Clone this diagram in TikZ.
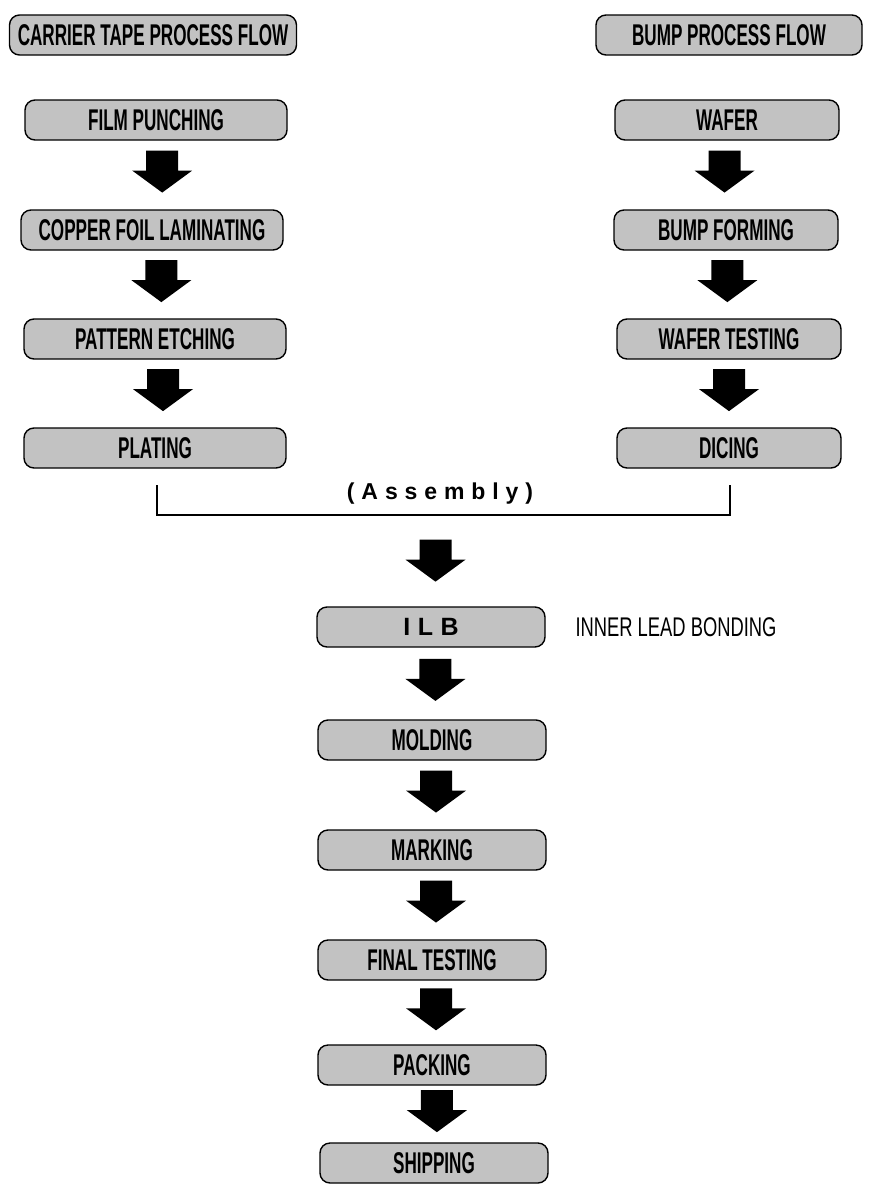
\documentclass[tikz,border=0pt]{standalone}
\usepackage{fontspec}
\setmainfont{Liberation Sans}
\newfontfamily\condb[FakeStretch=0.57]{Liberation Sans Bold}
\newfontfamily\condr[FakeStretch=0.68]{Liberation Sans}
\usetikzlibrary{calc}
\tikzset{
  procbox/.style={draw=black, line width=1.4pt, fill=black!24, rounded corners=10pt,
    minimum height=40pt, inner sep=0pt, font=\condb\fontsize{30}{30}\selectfont},
  leftbox/.style={procbox, minimum width=262pt},
  rightbox/.style={procbox, minimum width=224pt},
  midbox/.style={procbox, minimum width=228pt},
  blockarrow/.pic={\fill[black] (-16,-21) -- (16,-21) -- (16,-1) -- (30,-1) -- (0,21) -- (-30,-1) -- (-16,-1) -- cycle;},
}
\begin{document}
\begin{tikzpicture}[x=1pt,y=-1pt]
\useasboundingbox (0,0) rectangle (868,1197);
% titles
\node[procbox, minimum width=287pt] (ct) at (153,35) {CARRIER TAPE PROCESS FLOW};
\node[procbox, minimum width=266pt] (bp) at (729,35) {BUMP PROCESS FLOW};
% left column
\node[leftbox] (l1) at (156,120) {FILM PUNCHING};
\node[leftbox] (l2) at (152,230) {COPPER FOIL LAMINATING};
\node[leftbox] (l3) at (155,339) {PATTERN ETCHING};
\node[leftbox] (l4) at (155,448) {PLATING};
% right column
\node[rightbox] (r1) at (727,120) {WAFER};
\node[rightbox] (r2) at (726,230) {BUMP FORMING};
\node[rightbox] (r3) at (729,339) {WAFER TESTING};
\node[rightbox] (r4) at (729,448) {DICING};
% arrows
\path ($(l1.south)!0.45!(l2.north)$) +(8,0) pic {blockarrow};
\path ($(l2.south)!0.45!(l3.north)$) +(8,0) pic {blockarrow};
\path ($(l3.south)!0.45!(l4.north)$) +(8,0) pic {blockarrow};
\path ($(r1.south)!0.45!(r2.north)$) +(-2,0) pic {blockarrow};
\path ($(r2.south)!0.45!(r3.north)$) +(0,0) pic {blockarrow};
\path ($(r3.south)!0.45!(r4.north)$) +(0,0) pic {blockarrow};
% bracket
\coordinate (bl) at (157,485);
\coordinate (br) at (730,485);
\draw[line width=1.6pt] (bl) -- ++(0,30) -| (br);
\node[font=\bfseries\addfontfeature{LetterSpace=30}\fontsize{23}{23}\selectfont] (asm) at (440,494) {(Assembly)};
% centre column
\node[midbox, font=\bfseries\addfontfeature{LetterSpace=30}\fontsize{25}{25}\selectfont] (c1) at (431,627) {ILB};
\node[anchor=west, font=\condr\fontsize{27}{27}\selectfont] (ilbnote) at (572,627) {INNER LEAD BONDING};
\node[midbox] (c2) at (432,740) {MOLDING};
\node[midbox] (c3) at (432,850) {MARKING};
\node[midbox] (c4) at (432,960) {FINAL TESTING};
\node[midbox] (c5) at (432,1065) {PACKING};
\node[midbox] (c6) at (434,1163) {SHIPPING};
\coordinate (bm) at (432,515);
\path ($(bm)!0.5!(c1.north)$) +(4,0) pic {blockarrow};
\path ($(c1.south)!0.45!(c2.north)$) +(4,0) pic {blockarrow};
\path ($(c2.south)!0.45!(c3.north)$) +(4,0) pic {blockarrow};
\path ($(c3.south)!0.45!(c4.north)$) +(4,0) pic {blockarrow};
\path ($(c4.south)!0.45!(c5.north)$) +(4,0) pic {blockarrow};
\path ($(c5.south)!0.45!(c6.north)$) +(4,0) pic {blockarrow};
\end{tikzpicture}
\end{document}
